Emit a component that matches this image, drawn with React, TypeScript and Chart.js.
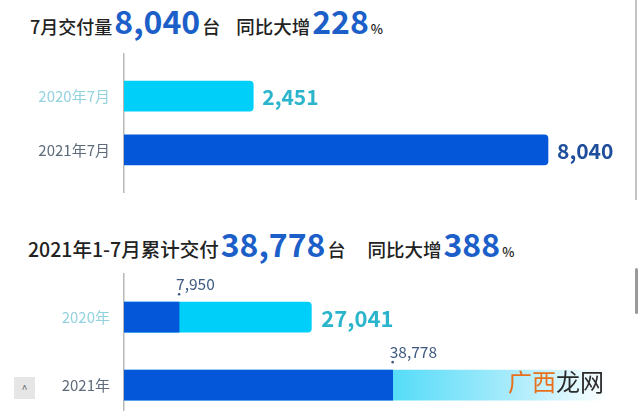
import React, { useEffect, useRef } from 'react';
import { Chart, registerables } from 'chart.js';

Chart.register(...registerables);

const FONT = '"Noto Sans CJK SC", "Noto Sans", sans-serif';

// ---- July deliveries (top chart) ----
const julyCategories = ['2020年7月', '2021年7月'];
const julyDeliveries = [2451, 8040];
const julyBarColors = ['#00cffa', '#0457d9'];
const julyCategoryColors = ['#93d2df', '#5d6b7b'];
const julyValueColors = ['#2ab5cc', '#1f4f9c'];

// ---- Jan–Jul cumulative deliveries (bottom chart) ----
const cumCategories = ['2020年', '2021年'];
const janJulDeliveries = [7950, 38778];
const fullYearDeliveries = [27041, 70000]; // 2021: end of the fading bar (estimated)
const showFullYearLabel = [true, false];
const cumCategoryColors = ['#93d2df', '#5d6b7b'];

const fmt = (v: number) => v.toLocaleString('en-US');

const julyLabelPlugin = {
  id: 'julyLabels',
  afterDatasetsDraw(chart: any) {
    const ctx = chart.ctx;
    const meta = chart.getDatasetMeta(0);
    meta.data.forEach((el: any, i: number) => {
      ctx.save();
      ctx.font = `600 21px ${FONT}`;
      ctx.fillStyle = julyValueColors[i];
      ctx.textAlign = 'left';
      ctx.textBaseline = 'middle';
      ctx.fillText(fmt(julyDeliveries[i]), el.x + 9, el.y + 1);
      ctx.restore();
    });
  },
};

const cumLabelPlugin = {
  id: 'cumLabels',
  afterDatasetsDraw(chart: any) {
    const ctx = chart.ctx;
    const dark = chart.getDatasetMeta(0);
    const full = chart.getDatasetMeta(1);
    dark.data.forEach((el: any, i: number) => {
      const top = el.y - el.height / 2;
      ctx.save();
      ctx.font = `400 15.5px ${FONT}`;
      ctx.fillStyle = '#3f5a80';
      ctx.textAlign = 'left';
      ctx.textBaseline = 'alphabetic';
      ctx.fillText(fmt(janJulDeliveries[i]), el.x - 3, top - 12);
      ctx.beginPath();
      ctx.arc(el.x, top - 8, 1.3, 0, Math.PI * 2);
      ctx.fill();
      ctx.restore();
    });
    full.data.forEach((el: any, i: number) => {
      if (!showFullYearLabel[i]) return;
      ctx.save();
      ctx.font = `600 22px ${FONT}`;
      ctx.fillStyle = '#2ab5cc';
      ctx.textAlign = 'left';
      ctx.textBaseline = 'middle';
      ctx.fillText(fmt(fullYearDeliveries[i]), el.x + 10, el.y + 1);
      ctx.restore();
    });
  },
};

function yAxis(categories: string[], colors: string[], min: number, max: number) {
  return {
    type: 'linear' as const,
    reverse: true,
    offset: false,
    min,
    max,
    bounds: 'data',
    grid: { display: false, drawTicks: false, offset: false },
    border: { display: true, color: '#b8b8b8', width: 1.5 },
    ticks: {
      padding: 14,
      font: { family: FONT, size: 15 },
      color: (c: any) => colors[c.index] || '#666',
      callback: (v: any) => categories[v] ?? '',
    },
    afterBuildTicks: (s: any) => {
      s.ticks = categories.map((_, i) => ({ value: i }));
    },
    afterFit: (s: any) => {
      s.width = 124;
      s.paddingTop = 0;
      s.paddingBottom = 0;
    },
  };
}

export default function App() {
  const topRef = useRef<HTMLCanvasElement>(null);
  const botRef = useRef<HTMLCanvasElement>(null);

  useEffect(() => {
    document.body.style.margin = '0';
    const top = new Chart(topRef.current!, {
      type: 'bar',
      data: {
        datasets: [
          {
            data: julyDeliveries.map((v, i) => ({ x: v, y: i })),
            backgroundColor: julyBarColors,
            borderRadius: 4,
            borderSkipped: 'start',
            barThickness: 30,
          } as any,
        ],
      },
      options: {
        indexAxis: 'y',
        responsive: false,
        animation: false,
        layout: { padding: { left: 0, right: 15, top: 0, bottom: 0 } },
        plugins: { legend: { display: false }, tooltip: { enabled: false } },
        scales: {
          x: { type: 'linear', display: false, min: 0, max: 9500 },
          y: yAxis(julyCategories, julyCategoryColors, -0.8, 1.8) as any,
        },
      },
      plugins: [julyLabelPlugin],
    });

    const bot = new Chart(botRef.current!, {
      type: 'bar',
      data: {
        datasets: [
          {
            data: janJulDeliveries.map((v, i) => ({ x: v, y: i })),
            backgroundColor: '#0457d9',
            borderRadius: 0,
            grouped: false,
            barThickness: 30,
          } as any,
          {
            data: fullYearDeliveries.map((v, i) => ({ x: v, y: i })),
            backgroundColor: (c: any) => {
              const chart = c.chart;
              if (c.dataIndex !== 1) return '#00cffa';
              const xs = chart.scales && chart.scales.x;
              if (!chart.chartArea || !xs) return '#7fe3f9';
              const x0 = xs.getPixelForValue(janJulDeliveries[1]);
              const x1 = xs.getPixelForValue(fullYearDeliveries[1]);
              const g = chart.ctx.createLinearGradient(x0, 0, x1, 0);
              g.addColorStop(0, '#55dcf8');
              g.addColorStop(0.55, '#a8ebfb');
              g.addColorStop(1, '#ffffff');
              return g;
            },
            borderRadius: (c: any) => (c.dataIndex === 0 ? 4 : 0),
            borderSkipped: 'start',
            grouped: false,
            barThickness: 30,
          } as any,
        ],
      },
      options: {
        indexAxis: 'y',
        responsive: false,
        animation: false,
        layout: { padding: { left: 0, right: 31, top: 0, bottom: 0 } },
        plugins: { legend: { display: false }, tooltip: { enabled: false } },
        scales: {
          x: { type: 'linear', display: false, min: 0, max: 70000 },
          y: yAxis(cumCategories, cumCategoryColors, -0.65, 1.38) as any,
        },
      },
      plugins: [cumLabelPlugin],
    });

    return () => {
      top.destroy();
      bot.destroy();
    };
  }, []);

  const small = (size: number): React.CSSProperties => ({
    fontSize: size,
    fontWeight: 500,
    color: '#222',
  });
  const big = (size: number): React.CSSProperties => ({
    fontSize: size,
    fontWeight: 700,
    color: '#1d5fc9',
    margin: '0 2px',
  });

  return (
    <div
      style={{
        position: 'relative',
        width: 640,
        height: 411,
        background: '#fff',
        overflow: 'hidden',
        fontFamily: FONT,
      }}
    >
      <div
        style={{
          position: 'absolute',
          left: 30,
          top: 4,
          display: 'flex',
          alignItems: 'baseline',
          lineHeight: 1,
          whiteSpace: 'nowrap',
        }}
      >
        <span style={small(18)}>7月交付量</span>
        <span style={big(32)}>8,040</span>
        <span style={small(18)}>台</span>
        <span style={{ ...small(18.5), marginLeft: 16 }}>同比大增</span>
        <span style={big(32)}>228</span>
        <span style={{ ...small(13), color: '#222' }}>%</span>
      </div>

      <div
        style={{
          position: 'absolute',
          left: 28,
          top: 227,
          display: 'flex',
          alignItems: 'baseline',
          lineHeight: 1,
          whiteSpace: 'nowrap',
        }}
      >
        <span style={small(19.5)}>2021年1-7月累计交付</span>
        <span style={big(32)}>38,778</span>
        <span style={small(18)}>台</span>
        <span style={{ ...small(18.5), marginLeft: 22 }}>同比大增</span>
        <span style={big(32)}>388</span>
        <span style={{ ...small(13), color: '#222' }}>%</span>
      </div>

      <canvas
        ref={topRef}
        width={640}
        height={140}
        style={{ position: 'absolute', left: 0, top: 53, width: 640, height: 140 }}
      />
      <canvas
        ref={botRef}
        width={640}
        height={138}
        style={{ position: 'absolute', left: 0, top: 273, width: 640, height: 138 }}
      />

      {/* watermark */}
      <div
        style={{
          position: 'absolute',
          left: 508,
          top: 369,
          fontSize: 24,
          lineHeight: 1,
          whiteSpace: 'nowrap',
        }}
      >
        <span style={{ color: '#e8701c' }}>广西</span>
        <span style={{ color: '#2a2a2a' }}>龙网</span>
      </div>

      {/* page scroll UI */}
      <div
        style={{
          position: 'absolute',
          left: 635,
          top: 0,
          width: 2,
          height: 200,
          background: '#c4c4c4',
        }}
      />
      <div
        style={{
          position: 'absolute',
          left: 635,
          top: 268,
          width: 3,
          height: 46,
          borderRadius: 2,
          background: '#9a9a9a',
        }}
      />
      <div
        style={{
          position: 'absolute',
          left: 14,
          top: 377,
          width: 21,
          height: 22,
          background: '#e6e6e6',
          color: '#666',
          fontSize: 11,
          lineHeight: '22px',
          textAlign: 'center',
          fontFamily: FONT,
        }}
      >
        ^
      </div>
    </div>
  );
}
